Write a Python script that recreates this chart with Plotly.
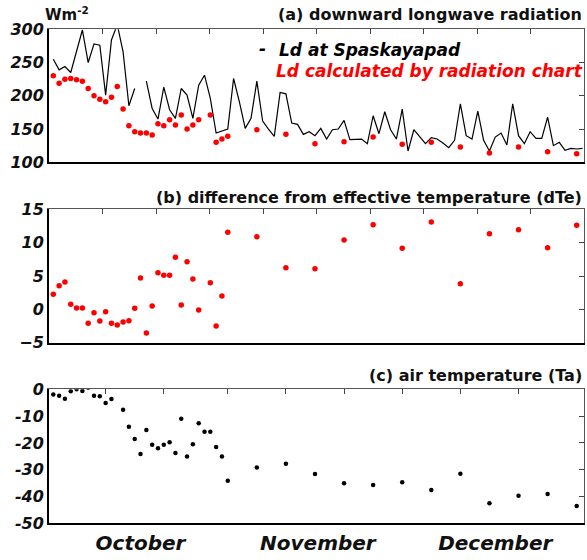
import plotly.graph_objects as go

# ---------------- data (day index: 0 = 1 October) ----------------
days_obs = list(range(92))
ld_obs = [255, 239, 244, 235, 267, 299, 250, 278, 276, 201,
          284, 307, 266, 185, 211, None, 222, 181, 165, 213,
          179, 166, 211, 201, 166, 216, 231, 196, 144, 147,
          150, 226, 191, 151, 166, 222, 162, 150, 139, 205,
          203, 159, 157, 142, 146, 140, 151, 135, 149, 150,
          163, 134, 135, 135, 128, 170, 143, 176, 149, 135,
          180, 117, 149, 139, 128, 137, 135, 129, 122, 133,
          188, 140, 135, 177, 133, 117, 138, 144, 126, 188,
          140, 128, 146, 136, 136, 168, 125, 130, 118, 121,
          120, 121]

days_calc = list(range(26)) + [27, 28, 29, 30] + list(range(35, 91, 5))
ld_calc = [230, 219, 225, 226, 224, 222, 211, 200, 195, 191,
           198, 214, 180, 155, 146, 144, 144, 141, 158, 155,
           164, 156, 171, 150, 156, 164,
           171, 130, 135, 139,
           149, 142, 128, 131, 138, 127, 130, 123, 114, 123, 116, 113]

days_dte = days_calc
dte = [2.25, 3.55, 4.1, 0.75, 0.2, 0.2, -2.1, -0.5, -1.75, -0.35,
       -2.1, -2.35, -1.9, -1.7, 0.15, 4.7, -3.55, 0.5, 5.5, 5.1,
       5.1, 7.8, 0.65, 7.15, 4.55, -0.1,
       4.0, -2.5, 2.0, 11.55,
       10.9, 6.25, 6.1, 10.4, 12.7, 9.15, 13.1, 3.85, 11.35, 11.95, 9.25, 12.6]

days_ta = list(range(31)) + list(range(35, 91, 5))
ta = [-1.9, -2.4, -3.5, -0.75, 0.0, -0.6, 0.6, -2.4, -2.6, -5.1,
      -3.6, 1.0, -7.6, -14.0, -18.5, -24.1, -15.2, -20.7, -22.0, -20.7,
      -19.8, -23.8, -11.0, -25.1, -20.5, -12.7, -15.8, -15.8, -21.5, -25.1,
      -34.1,
      -29.2, -27.8, -31.6, -35.1, -35.7, -34.7, -37.6, -31.5, -42.5, -39.7, -39.1, -43.5]

month_pos = [15, 45.5, 76]
month_labels = ["October", "November", "December"]

ya_ticks = [100, 150, 200, 250, 300]
yb_ticks = [-5, 0, 5, 10, 15]
yc_ticks = [-50, -40, -30, -20, -10, 0]
yc_labels = ["-50", "-40", "-30", "-20", "-10", "0"]
top_ticks_c = [9, 19, 30, 40, 50, 60, 70, 80]

x_range = [-0.74, 91.26]
top_ticks_ab = [x_range[0] + k * (x_range[1] - x_range[0]) / 10 for k in range(1, 10)]

# ---------------- figure ----------------
W, H = 587, 560
xd = [49 / W, 584 / W]
dom = {
    "a": [1 - 162.3 / H, 1 - 29.3 / H],
    "b": [1 - 342.7 / H, 1 - 209.3 / H],
    "c": [1 - 523.3 / H, 1 - 389.3 / H],
}

tickfont = dict(family="DejaVu Sans", size=16, color="#111", weight="bold", style="italic")

fig = go.Figure()

fig.add_trace(go.Scatter(x=days_obs, y=ld_obs, mode="lines", connectgaps=False,
                         line=dict(color="black", width=1.2), xaxis="x", yaxis="y"))
fig.add_trace(go.Scatter(x=days_calc, y=ld_calc, mode="markers",
                         marker=dict(color="#ff0000", size=5.5), xaxis="x", yaxis="y"))
fig.add_trace(go.Scatter(x=days_dte, y=dte, mode="markers",
                         marker=dict(color="#ff0000", size=5.5), xaxis="x3", yaxis="y3"))
fig.add_trace(go.Scatter(x=days_ta, y=ta, mode="markers",
                         marker=dict(color="black", size=4.5), xaxis="x5", yaxis="y5"))
# empty traces for the overlay (top / right) frame axes
for xa, ya in [("x2", "y2"), ("x4", "y4"), ("x6", "y6")]:
    fig.add_trace(go.Scatter(x=[], y=[], xaxis=xa, yaxis=ya, hoverinfo="skip"))


def main_x(anchor, **kw):
    d = dict(domain=xd, anchor=anchor, range=x_range, showgrid=False, zeroline=False,
             showline=True, linecolor="black", linewidth=2, ticks="", showticklabels=False,
             automargin=False)
    d.update(kw)
    return d


def main_y(anchor, rng, tv, domain, tt=None):
    d = dict(domain=domain, anchor=anchor, range=rng, showgrid=False, zeroline=False,
             showline=True, linecolor="black", linewidth=2, ticks="",
             tickvals=tv, tickfont=tickfont, ticklabelstandoff=0, automargin=False)
    if tt is not None:
        d["ticktext"] = tt
    return d


def top_x(anchor, overl, tv):
    return dict(domain=xd, anchor=anchor, overlaying=overl, side="top", range=x_range,
                showgrid=False, zeroline=False, showline=True, linecolor="#555", linewidth=1,
                ticks="inside", ticklen=5, tickwidth=1, tickcolor="#444",
                tickvals=tv, showticklabels=False, automargin=False)


def right_y(anchor, overl, rng, tv, domain):
    return dict(domain=domain, anchor=anchor, overlaying=overl, side="right", range=rng,
                showgrid=False, zeroline=False, showline=True, linecolor="#555", linewidth=1,
                ticks="inside", ticklen=5, tickwidth=1, tickcolor="#444",
                tickvals=tv, showticklabels=False, automargin=False)


fig.update_layout(
    template="none",
    width=W, height=H, autosize=False, margin=dict(l=0, r=0, t=0, b=0, pad=0),
    paper_bgcolor="white", plot_bgcolor="white", showlegend=False,
    xaxis=main_x("y"),
    yaxis=main_y("x", [100, 300], ya_ticks, dom["a"]),
    xaxis2=top_x("y2", "x", top_ticks_ab),
    yaxis2=right_y("x2", "y", [100, 300], ya_ticks[1:-1], dom["a"]),
    xaxis3=main_x("y3"),
    yaxis3=main_y("x3", [-5, 15], yb_ticks, dom["b"]),
    xaxis4=top_x("y4", "x3", top_ticks_ab),
    yaxis4=right_y("x4", "y3", [-5, 15], yb_ticks[1:-1], dom["b"]),
    xaxis5=main_x("y5", showticklabels=True, tickvals=month_pos, ticktext=month_labels,
                  tickfont=dict(family="DejaVu Sans", size=20, color="#111",
                                weight="bold", style="italic"),
                  ticklabelstandoff=1),
    yaxis5=main_y("x5", [-50, 0], yc_ticks, dom["c"], yc_labels),
    xaxis6=top_x("y6", "x5", top_ticks_c),
    yaxis6=right_y("x6", "y5", [-50, 0], yc_ticks[1:-1], dom["c"]),
)

title_font = dict(family="DejaVu Sans", size=16, color="#111", weight="bold")
leg_font = dict(family="DejaVu Sans", size=17, weight="bold", style="italic")

ann = [
    dict(text="(a) downward longwave radiation", x=584 / W, y=1 - 14 / H,
         xanchor="right", yanchor="middle", font=title_font),
    dict(text="(b) difference from effective temperature (dTe)", x=584 / W, y=1 - 197 / H,
         xanchor="right", yanchor="middle", font=title_font),
    dict(text="(c) air temperature (Ta)", x=584 / W, y=1 - 375 / H,
         xanchor="right", yanchor="middle", font=title_font),
    dict(text="Wm<sup>-2</sup>", x=43 / W, y=1 - 14 / H, xanchor="left", yanchor="middle",
         font=dict(family="DejaVu Sans", size=15, color="#111", weight="bold")),
    dict(text="-", x=262 / W, y=1 - 49 / H, xanchor="center", yanchor="middle",
         font=dict(leg_font, color="black")),
    dict(text="Ld at Spaskayapad", x=277 / W, y=1 - 50 / H, xanchor="left", yanchor="middle",
         font=dict(leg_font, color="black")),
    dict(text="Ld calculated by radiation chart", x=274 / W, y=1 - 71 / H, xanchor="left",
         yanchor="middle", font=dict(leg_font, color="#ff0000")),
]
for a in ann:
    a.update(xref="paper", yref="paper", showarrow=False)
fig.update_layout(annotations=ann)

fig.write_html("out.html", config={"displayModeBar": False},
               post_script="document.body.style.margin='0';document.body.style.overflow='hidden';")
